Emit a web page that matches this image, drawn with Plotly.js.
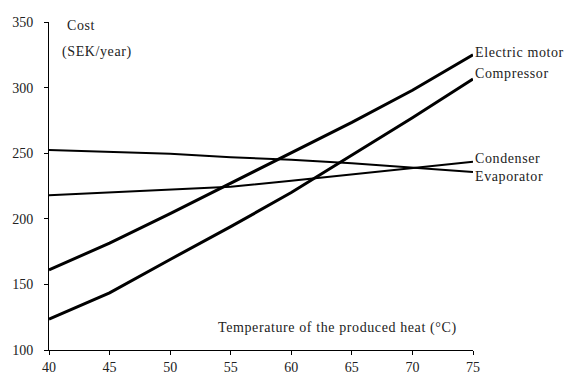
<!DOCTYPE html>
<html>
<head>
<meta charset="utf-8">
<script src="https://cdn.plot.ly/plotly-3.0.1.min.js"></script>
<style>
html,body{margin:0;padding:0;background:#fff;}
#chart{width:565px;height:375px;}
.annotation-text{letter-spacing:0.6px;}
</style>
</head>
<body>
<div id="chart"></div>
<script>
const temperature = [40, 45, 50, 55, 60, 65, 70, 75];
const electricMotor = [161, 181.5, 204, 227, 250, 273.5, 298, 325];
const compressor = [123.5, 143.5, 169, 194, 220, 248.5, 277, 306.5];
const condenser = [218, 220, 222, 224.5, 229, 234, 239, 243.5];
const evaporator = [252.5, 251, 249.5, 247, 245, 242.3, 238.8, 235.6];
const seriesNames = ['Electric motor', 'Compressor', 'Condenser', 'Evaporator'];
const xTicks = [40, 45, 50, 55, 60, 65, 70, 75];
const yTicks = [100, 150, 200, 250, 300, 350];

const font = {family: 'Liberation Serif, Times New Roman, serif', size: 14, color: '#222'};
const series = [electricMotor, compressor, condenser, evaporator];
const widths = [3, 3, 2, 2];
const yshifts = [2, 6, 3, -4];

const traces = series.map((s, i) => ({
  x: temperature, y: s, type: 'scatter', mode: 'lines', name: seriesNames[i],
  line: {color: '#000', width: widths[i]}, showlegend: false, hoverinfo: 'skip'
}));

const annotations = series.map((s, i) => ({
  x: temperature[temperature.length - 1], y: s[s.length - 1], xref: 'x', yref: 'y',
  text: seriesNames[i], showarrow: false, xanchor: 'left', yanchor: 'middle',
  xshift: 0, yshift: yshifts[i], font: font
}));
annotations.push({x: 0.038, y: 347.5, xref: 'paper', yref: 'y', text: 'Cost', showarrow: false,
  xanchor: 'left', yanchor: 'middle', font: font});
annotations.push({x: 0.026, y: 327.5, xref: 'paper', yref: 'y', text: '(SEK/year)', showarrow: false,
  xanchor: 'left', yanchor: 'middle', font: font});
annotations.push({x: 75, y: 117, xref: 'x', yref: 'y', text: 'Temperature of the produced heat (°C)', showarrow: false,
  xanchor: 'right', yanchor: 'middle', xshift: -14, font: font});

const axisCommon = {showgrid: false, zeroline: false, showline: true, linecolor: '#000', linewidth: 1,
  ticklen: 4, tickcolor: '#000', tickwidth: 1, tickfont: font};

const layout = {
  width: 565, height: 375,
  margin: {l: 49, r: 92, t: 22, b: 25},
  paper_bgcolor: '#fff', plot_bgcolor: '#fff',
  font: font,
  xaxis: Object.assign({range: [40, 75], tickvals: xTicks, ticktext: xTicks.map(String), ticks: 'outside'}, axisCommon),
  yaxis: Object.assign({range: [100, 350], tickvals: yTicks, ticktext: yTicks.map(String), ticks: 'outside',
    ticklabelstandoff: 8}, axisCommon),
  xaxis2: Object.assign({range: [40, 75], tickvals: xTicks, ticks: 'inside', overlaying: 'x', anchor: 'y',
    side: 'bottom', showticklabels: false}, axisCommon),
  yaxis2: Object.assign({range: [100, 350], tickvals: yTicks, ticks: 'inside', overlaying: 'y', anchor: 'x',
    side: 'left', showticklabels: false}, axisCommon),
  annotations: annotations,
  showlegend: false
};

Plotly.newPlot('chart', traces, layout, {staticPlot: true, displayModeBar: false});
</script>
</body>
</html>
